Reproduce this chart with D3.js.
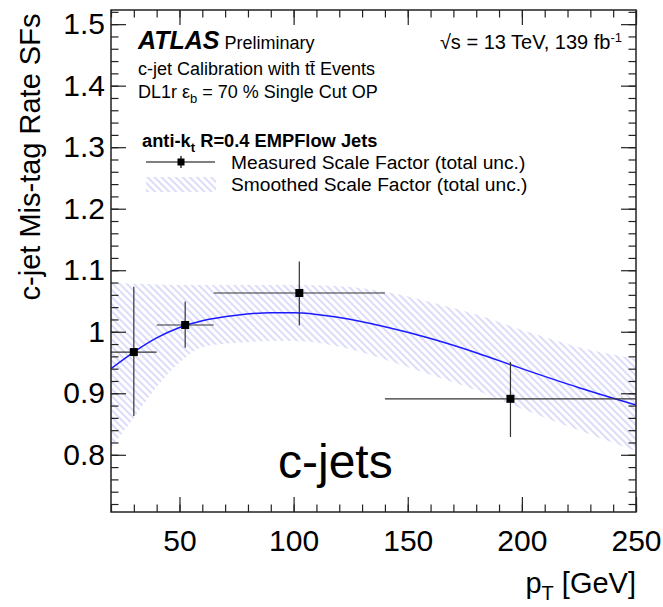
<!DOCTYPE html>
<html>
<head>
<meta charset="utf-8">
<script src="https://cdn.jsdelivr.net/npm/d3@7"></script>
<style>
  body { margin: 0; background: #fff; }
  svg { display: block; font-family: "Liberation Sans", Arial, Helvetica, sans-serif; }
</style>
</head>
<body>
<svg id="chart" width="663" height="607"></svg>
<script>
// measured scale factors, one per pT bin
var binLow = [20, 40, 65, 140];
var binHigh = [40, 65, 140, 250];
var binCenter = [30, 52.5, 102.5, 195];
var sfValue = [0.967, 1.011, 1.063, 0.891];
var sfErrUp = [0.106, 0.038, 0.051, 0.060];
var sfErrDown = [0.104, 0.037, 0.053, 0.062];

// smoothed scale factor and its band
var smoothPt = [20, 30, 40, 50, 60, 75, 90, 100, 120, 140, 160, 180, 200, 225, 250];
var smoothSF = [0.940, 0.967, 0.990, 1.007, 1.018, 1.027, 1.031, 1.031, 1.023, 1.008, 0.989, 0.966, 0.940, 0.909, 0.881];
var smoothUp = [1.080, 1.078, 1.077, 1.076, 1.076, 1.076, 1.076, 1.076, 1.074, 1.065, 1.048, 1.028, 1.003, 0.975, 0.956];
var smoothDown = [0.812, 0.860, 0.910, 0.950, 0.975, 0.982, 0.985, 0.985, 0.976, 0.955, 0.930, 0.905, 0.875, 0.840, 0.806];

// axis ticks
var xMajor = [50, 100, 150, 200, 250];
var xMinor = d3.range(20, 251, 10);
var yMajor = [0.8, 0.9, 1.0, 1.1, 1.2, 1.3, 1.4, 1.5];
var yMinor = d3.range(0.72, 1.521, 0.02);
var yLabels = ['0.8', '0.9', '1', '1.1', '1.2', '1.3', '1.4', '1.5'];

var svg = d3.select('#chart');
var frame = {l: 111, r: 636, t: 10, b: 512};

var x = d3.scaleLinear().domain([20, 250]).range([frame.l, frame.r]);
var y = d3.scaleLinear().domain([0.707, 1.523]).range([frame.b, frame.t]);

// hatch pattern for the smoothed band
var defs = svg.append('defs');
defs.append('pattern')
    .attr('id', 'hatch')
    .attr('patternUnits', 'userSpaceOnUse')
    .attr('width', 8).attr('height', 5)
    .attr('patternTransform', 'rotate(45)')
  .append('line')
    .attr('x1', 0).attr('y1', 1).attr('x2', 8).attr('y2', 1)
    .attr('stroke', '#a6a6f4').attr('stroke-width', 0.8);
defs.append('clipPath').attr('id', 'plotClip')
  .append('rect')
    .attr('x', frame.l).attr('y', frame.t)
    .attr('width', frame.r - frame.l).attr('height', frame.b - frame.t);

var plotG = svg.append('g').attr('clip-path', 'url(#plotClip)');

var bandData = smoothPt.map(function(p, i) { return {pt: p, up: smoothUp[i], down: smoothDown[i], sf: smoothSF[i]}; });

plotG.append('path')
    .datum(bandData)
    .attr('fill', 'url(#hatch)')
    .attr('d', d3.area()
        .curve(d3.curveMonotoneX)
        .x(function(d) { return x(d.pt); })
        .y0(function(d) { return y(d.down); })
        .y1(function(d) { return y(d.up); }));

plotG.append('path')
    .datum(bandData)
    .attr('fill', 'none')
    .attr('stroke', '#1a1aff')
    .attr('stroke-width', 1.5)
    .attr('d', d3.line()
        .curve(d3.curveMonotoneX)
        .x(function(d) { return x(d.pt); })
        .y(function(d) { return y(d.sf); }));

// measured points
var points = binCenter.map(function(c, i) {
    return {c: c, lo: binLow[i], hi: binHigh[i], v: sfValue[i], up: sfErrUp[i], dn: sfErrDown[i]};
});
var pg = plotG.selectAll('.pt').data(points).enter().append('g').attr('class', 'pt');
pg.append('line')
    .attr('x1', function(d) { return x(d.lo); })
    .attr('x2', function(d) { return x(d.hi); })
    .attr('y1', function(d) { return y(d.v); })
    .attr('y2', function(d) { return y(d.v); })
    .attr('stroke', '#333').attr('stroke-width', 1.2);
pg.append('line')
    .attr('x1', function(d) { return x(d.c); })
    .attr('x2', function(d) { return x(d.c); })
    .attr('y1', function(d) { return y(d.v + d.up); })
    .attr('y2', function(d) { return y(d.v - d.dn); })
    .attr('stroke', '#333').attr('stroke-width', 1.2);
pg.append('rect')
    .attr('x', function(d) { return x(d.c) - 4; })
    .attr('y', function(d) { return y(d.v) - 4; })
    .attr('width', 8).attr('height', 8)
    .attr('fill', '#000');

// axes: ticks inside the frame on all four sides
function styleAxis(g) {
    g.select('.domain').remove();
    g.selectAll('.tick line').attr('stroke', '#222').attr('stroke-width', 1.2);
    g.selectAll('.tick text').attr('fill', '#000').attr('font-size', 30)
        .attr('font-family', '"Liberation Sans", Arial, sans-serif');
}
svg.append('g').attr('transform', 'translate(0,' + frame.b + ')')
    .call(d3.axisBottom(x).tickValues(xMinor).tickSize(-7.5).tickFormat(''))
    .call(styleAxis);
svg.append('g').attr('transform', 'translate(0,' + frame.b + ')')
    .call(d3.axisBottom(x).tickValues(xMajor).tickSizeInner(-15).tickPadding(18).tickFormat(d3.format('d')))
    .call(styleAxis);
svg.append('g').attr('transform', 'translate(0,' + frame.t + ')')
    .call(d3.axisTop(x).tickValues(xMinor).tickSize(-7.5).tickFormat(''))
    .call(styleAxis);
svg.append('g').attr('transform', 'translate(0,' + frame.t + ')')
    .call(d3.axisTop(x).tickValues(xMajor).tickSize(-15).tickFormat(''))
    .call(styleAxis);
svg.append('g').attr('transform', 'translate(' + frame.l + ',0)')
    .call(d3.axisLeft(y).tickValues(yMinor).tickSize(-7.5).tickFormat(''))
    .call(styleAxis);
svg.append('g').attr('transform', 'translate(' + frame.l + ',0)')
    .call(d3.axisLeft(y).tickValues(yMajor).tickSizeInner(-15).tickPadding(6)
        .tickFormat(function(d, i) { return yLabels[i]; }))
    .call(styleAxis);
svg.append('g').attr('transform', 'translate(' + frame.r + ',0)')
    .call(d3.axisRight(y).tickValues(yMinor).tickSize(-7.5).tickFormat(''))
    .call(styleAxis);
svg.append('g').attr('transform', 'translate(' + frame.r + ',0)')
    .call(d3.axisRight(y).tickValues(yMajor).tickSize(-15).tickFormat(''))
    .call(styleAxis);

svg.append('rect')
    .attr('x', frame.l).attr('y', frame.t)
    .attr('width', frame.r - frame.l).attr('height', frame.b - frame.t)
    .attr('fill', 'none').attr('stroke', '#222').attr('stroke-width', 1.5);

// axis titles
svg.append('text')
    .attr('transform', 'translate(40,157) rotate(-90)')
    .attr('text-anchor', 'middle')
    .attr('font-size', 29)
    .text('c-jet Mis-tag Rate SFs');
var xt = svg.append('text')
    .attr('x', frame.r).attr('y', 593)
    .attr('text-anchor', 'end')
    .attr('font-size', 29);
xt.append('tspan').text('p');
xt.append('tspan').attr('dy', 7).attr('font-size', 20).text('T');
xt.append('tspan').attr('dy', -7).text(' [GeV]');

// labels
var lab = svg.append('text').attr('x', 138).attr('y', 49);
lab.append('tspan').attr('font-weight', 'bold').attr('font-style', 'italic').attr('font-size', 25).text('ATLAS');
lab.append('tspan').attr('font-size', 18).text(' Preliminary');

var lumi = svg.append('text').attr('x', 622).attr('y', 49).attr('text-anchor', 'end').attr('font-size', 20);
lumi.append('tspan').text('\u221As = 13 TeV, 139 fb');
lumi.append('tspan').attr('dy', -7).attr('font-size', 13).text('-1');

svg.append('text').attr('x', 138).attr('y', 75).attr('font-size', 18)
    .text('c-jet Calibration with t\u0074\u0304 Events');

var dl = svg.append('text').attr('x', 138).attr('y', 98).attr('font-size', 18);
dl.append('tspan').text('DL1r \u03b5');
dl.append('tspan').attr('dy', 5).attr('font-size', 13).text('b');
dl.append('tspan').attr('dy', -5).text(' = 70 % Single Cut OP');

// legend
var lt = svg.append('text').attr('x', 142).attr('y', 147).attr('font-size', 18.3).attr('font-weight', 'bold');
lt.append('tspan').text('anti-k');
lt.append('tspan').attr('dy', 5).attr('font-size', 13).text('t');
lt.append('tspan').attr('dy', -5).text(' R=0.4 EMPFlow Jets');

svg.append('line').attr('x1', 146).attr('x2', 215).attr('y1', 162).attr('y2', 162)
    .attr('stroke', '#000').attr('stroke-width', 1.2);
svg.append('line').attr('x1', 181).attr('x2', 181).attr('y1', 156).attr('y2', 168)
    .attr('stroke', '#000').attr('stroke-width', 1.2);
svg.append('rect').attr('x', 177.5).attr('y', 158.5).attr('width', 7).attr('height', 7).attr('fill', '#000');
svg.append('text').attr('x', 231).attr('y', 169).attr('font-size', 19.2)
    .text('Measured Scale Factor (total unc.)');

svg.append('rect').attr('x', 146).attr('y', 177).attr('width', 70).attr('height', 15)
    .attr('fill', 'url(#hatch)');
svg.append('text').attr('x', 231).attr('y', 191).attr('font-size', 19.2)
    .text('Smoothed Scale Factor (total unc.)');

svg.append('text').attr('x', 278).attr('y', 478).attr('font-size', 48).text('c-jets');
</script>
</body>
</html>
